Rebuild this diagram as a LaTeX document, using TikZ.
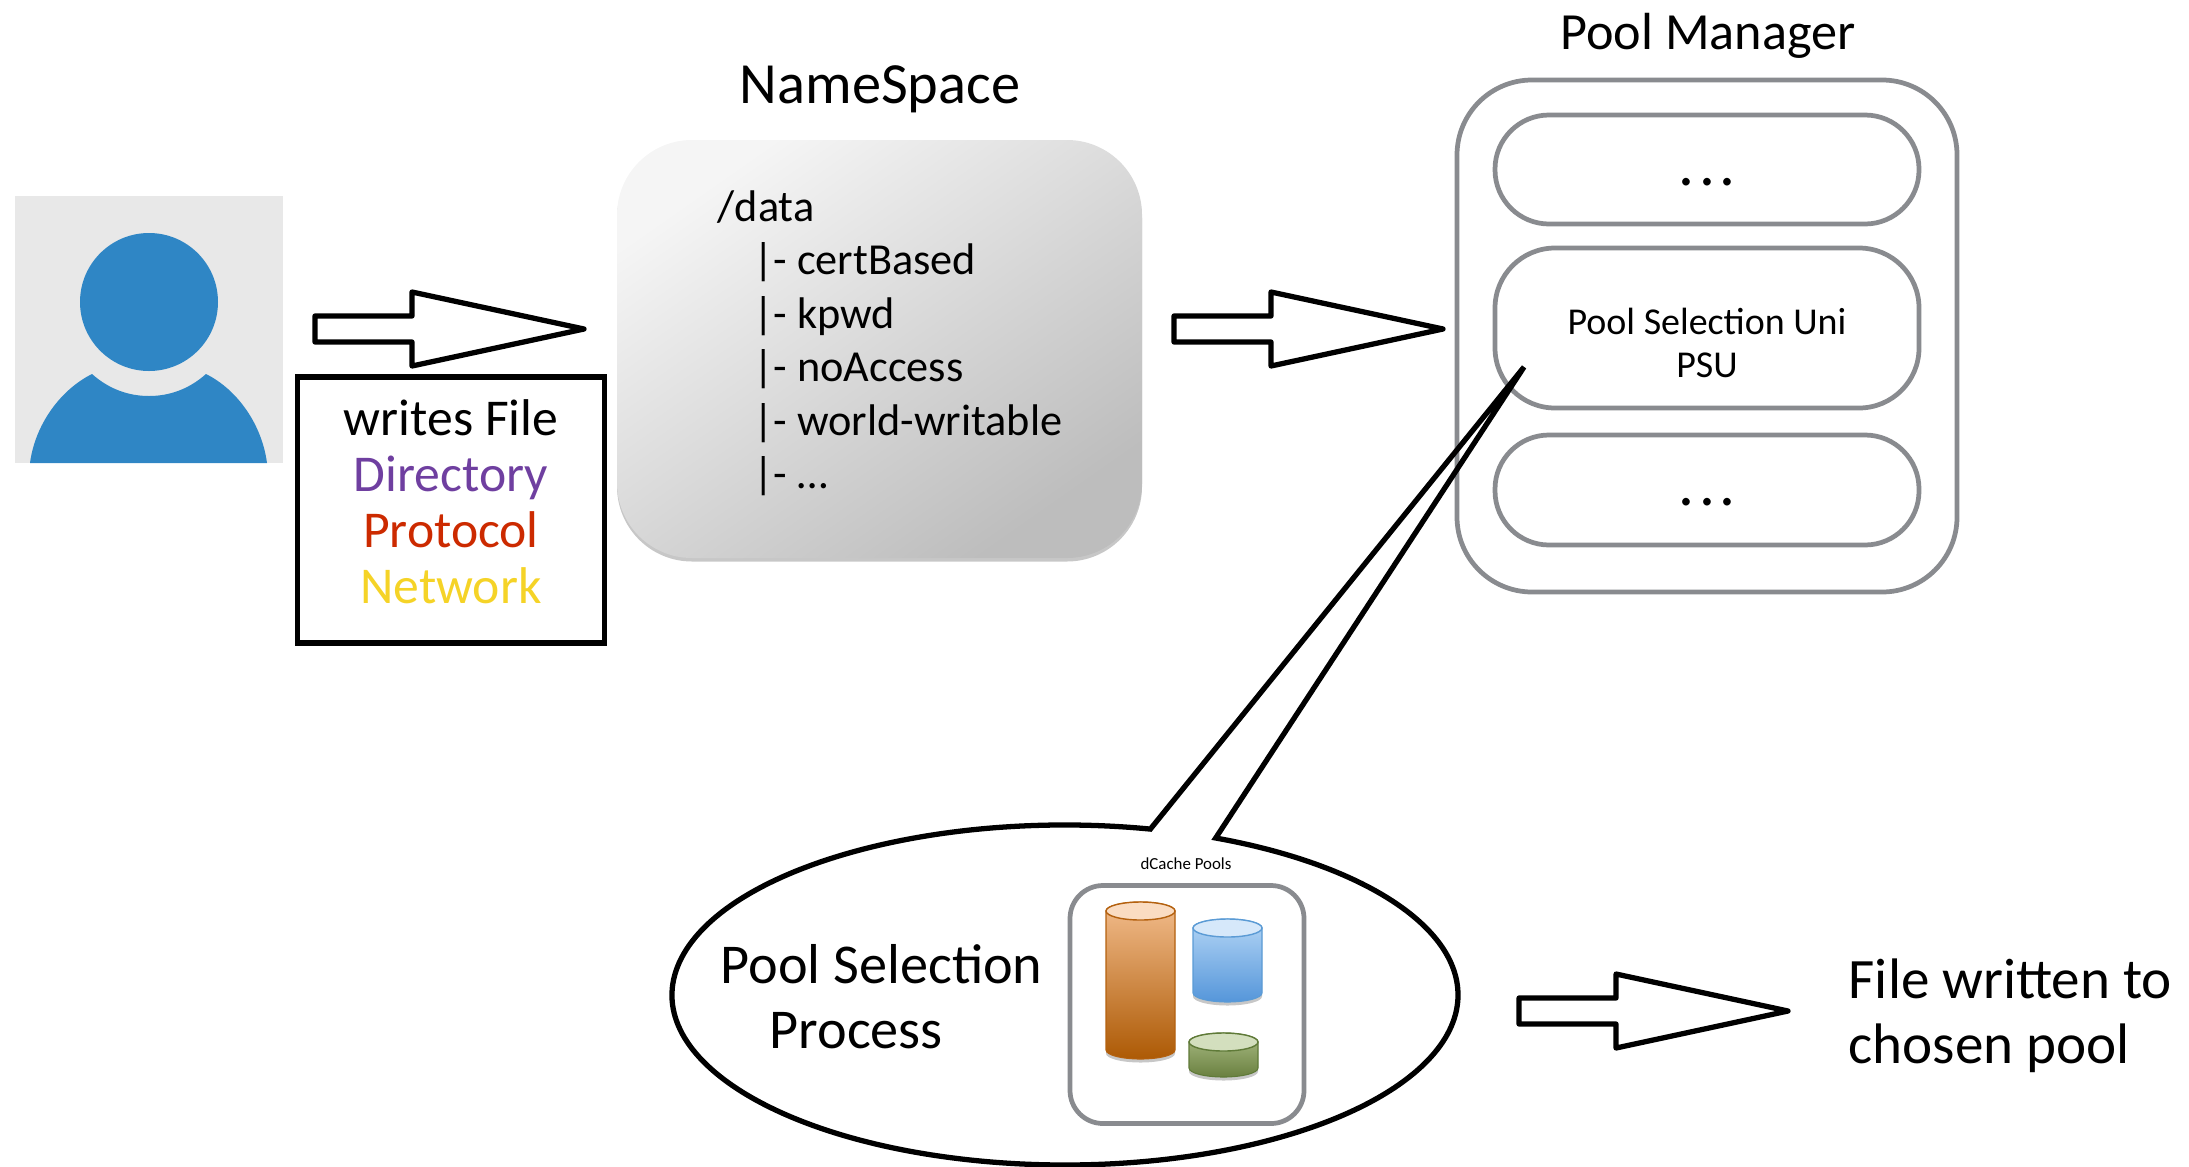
\documentclass[tikz,border=0pt]{standalone}
\usepackage{fontspec}
\setmainfont{Carlito}
\usetikzlibrary{shapes.callouts,shadows}
\definecolor{boxgray}{HTML}{898B8F}
\definecolor{userblue}{HTML}{2F86C5}
\definecolor{dirpurple}{HTML}{6F3FA0}
\definecolor{protored}{HTML}{CC2A00}
\definecolor{netyellow}{HTML}{F5D327}
\tikzset{
	grayround/.style={draw=boxgray,line width=1.35pt,inner sep=0pt},
	blockline/.style={draw=black,line width=1.5pt,fill=white,line join=round},
	softshadow/.style={drop shadow={shadow xshift=0pt,shadow yshift=-0.035cm,opacity=0.22,fill=black}},
	pilldots/.style={anchor=base,inner sep=0pt,font=\fontsize{18}{20}\selectfont},
}
\newcommand{\sz}[2]{\fontsize{#1}{#2}\selectfont}

\begin{document}
\begin{tikzpicture}
\useasboundingbox (0,0) rectangle (21.89,-11.66);

%----------------------------
% Left: user
%----------------------------
\fill[gray!18] (0.15,-1.96) rectangle (2.83,-4.63);
\fill[userblue] (1.49,-3.02) circle (0.69);
\fill[userblue] (0.30,-4.63) .. controls (0.35,-4.25) and (0.60,-3.90) .. (0.92,-3.74)
	.. controls (1.10,-3.90) and (1.30,-3.96) .. (1.49,-3.96)
	.. controls (1.68,-3.96) and (1.88,-3.90) .. (2.06,-3.74)
	.. controls (2.38,-3.90) and (2.62,-4.25) .. (2.67,-4.63) -- cycle;

% File attributes
\node[draw=black,line width=1.5pt,minimum width=3.07cm,minimum height=2.66cm] (attrs) at (4.51,-5.10) {};
\node[align=center,font=\sz{14.7}{15.9}] (attrstext) at (4.51,-5.02)
	{writes File\\ \textcolor{dirpurple}{Directory}\\ \textcolor{protored}{Protocol}\\ \textcolor{netyellow}{Network}};

%----------------------------
% Middle: NameSpace
%----------------------------
\node[font=\sz{16.6}{18}] (nstitle) at (8.80,-0.89) {NameSpace};
\node[rounded corners=0.75cm,minimum width=5.25cm,minimum height=4.18cm,shading=axis,left color=white!96!black,right color=black!26,shading angle=35,softshadow] (namespace) at (8.795,-3.49) {};
\node[anchor=north west,align=left,font=\sz{12.6}{15.2},inner sep=0pt] (nslist) at (7.17,-1.90)
	{/data\\ \hspace*{0.355cm}|- certBased\\ \hspace*{0.355cm}|- kpwd\\ \hspace*{0.355cm}|- noAccess\\ \hspace*{0.355cm}|- world-writable\\ \hspace*{0.355cm}|- \dots};

%----------------------------
% Right: Pool Manager
%----------------------------
\node[font=\sz{14.85}{17}] (pmtitle) at (17.08,-0.36) {Pool Manager};
\node[grayround,rounded corners=0.75cm,minimum width=5.0cm,minimum height=5.12cm] (manager) at (17.07,-3.36) {};
\node[grayround,rounded corners=0.54cm,minimum width=4.24cm,minimum height=1.09cm] (pilltop) at (17.07,-1.695) {};
\node[pilldots] (dotstop) at (17.07,-1.85) {.\kern0.05cm.\kern0.05cm.};
\node[grayround,rounded corners=0.6cm,minimum width=4.24cm,minimum height=1.60cm] (psu) at (17.07,-3.28) {};
\node[align=center,font=\sz{10.8}{12}] (psutext) at (17.07,-3.43) {Pool Selection Uni\\ PSU};
\node[grayround,rounded corners=0.54cm,minimum width=4.24cm,minimum height=1.10cm] (pillbot) at (17.07,-4.90) {};
\node[pilldots] (dotsbot) at (17.07,-5.05) {.\kern0.05cm.\kern0.05cm.};

% Block arrows
\foreach \ax/\ay in {3.15/-3.29,11.74/-3.29,15.19/-10.11} {
	\begin{scope}[shift={(\ax,\ay)}]
		\draw[blockline] (0,0.13) -- (0.97,0.13) -- (0.97,0.37) -- (2.69,0) -- (0.97,-0.37) -- (0.97,-0.13) -- (0,-0.13) -- cycle;
	\end{scope}
}

%----------------------------
% Bottom: selection process
%----------------------------
\coordinate (psutip) at (15.24,-3.67);
\node[ellipse callout,callout absolute pointer={(psutip)},callout pointer arc=10,draw=black,line width=1.5pt,minimum width=7.86cm,minimum height=3.40cm,inner sep=0pt] (selection) at (10.65,-9.95) {};
\node[anchor=base west,font=\sz{16}{18},inner sep=0pt] (seltext) at (7.20,-9.83) {Pool Selection};
\node[anchor=base west,font=\sz{16}{18},inner sep=0pt] (proctext) at (7.69,-10.48) {Process};

% Pools
\node[font=\sz{4.8}{6}] (poolstitle) at (11.86,-8.64) {dCache Pools};
\node[grayround,rounded corners=0.33cm,minimum width=2.34cm,minimum height=2.38cm] (pools) at (11.87,-10.045) {};
\foreach \px/\ptop/\pbot/\pup/\plow/\pedge/\plid in {
	11.06/-9.11/-10.50/F2BC8C/AD5A05/B4610F/FADCC2,
	11.93/-9.28/-9.93/B3D5F5/5596DA/5B9BD5/D6E8FA,
	11.89/-10.42/-10.68/A9BC84/6A8040/5F7A38/D3DFBE} {
	\definecolor{cup}{HTML}{\pup}
	\definecolor{clow}{HTML}{\plow}
	\definecolor{cedge}{HTML}{\pedge}
	\definecolor{clid}{HTML}{\plid}
	\draw[cedge,line width=0.3pt,top color=cup,bottom color=clow,softshadow]
		(\px,\ptop) -- (\px,\pbot) arc (180:360:0.345 and 0.09) -- (\px+0.69,\ptop) arc (0:180:0.345 and 0.09) -- cycle;
	\draw[cedge,line width=0.4pt,fill=clid] (\px+0.345,\ptop) ellipse (0.345 and 0.09);
}

% Result
\node[anchor=north west,align=left,font=\sz{16.25}{18.4},inner sep=0pt] (result) at (18.48,-9.58) {File written to\\ chosen pool};
\end{tikzpicture}
\end{document}
